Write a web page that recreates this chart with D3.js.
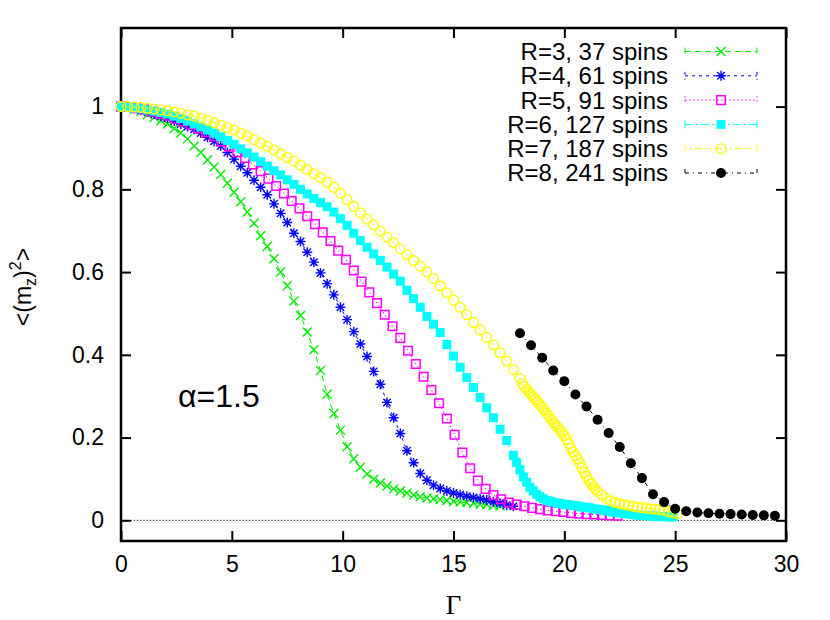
<!DOCTYPE html>
<html>
<head>
<meta charset="utf-8">
<script src="https://cdn.jsdelivr.net/npm/d3@7"></script>
<style>
  body { margin: 0; background: #fff; }
  svg { display: block; font-family: 'Liberation Sans', Arial, sans-serif; }
</style>
</head>
<body>
<div id="chart"></div>
<script>
// <(m_z)^2> against Gamma, alpha = 1.5

const seriesNames = ['R=3, 37 spins', 'R=4, 61 spins', 'R=5, 91 spins', 'R=6, 127 spins', 'R=7, 187 spins', 'R=8, 241 spins']
const xTicks = [0, 5, 10, 15, 20, 25, 30]
const yTicks = [0, 0.2, 0.4, 0.6, 0.8, 1]

const gammaR3 = [0, 0.3, 0.6, 0.9, 1.2, 1.5, 1.8, 2.1, 2.4, 2.7, 3, 3.3, 3.6, 3.9, 4.2, 4.5, 4.8, 5.1, 5.4, 5.7,
  6, 6.3, 6.6, 6.9, 7.2, 7.5, 7.8, 8.1, 8.4, 8.7, 9, 9.3, 9.6, 9.9, 10.2, 10.5, 10.8, 11.1, 11.4, 11.7,
  12, 12.3, 12.6, 12.9, 13.2, 13.5, 13.8, 14.1, 14.4, 14.7, 15, 15.3, 15.6, 15.9, 16.2, 16.5, 16.8, 17.1]
const mzR3 = [1.000, 0.998, 0.994, 0.988, 0.981, 0.974, 0.966, 0.958, 0.947, 0.936, 0.922, 0.905, 0.889, 0.871, 0.854, 0.836, 0.815, 0.793, 0.770, 0.745,
  0.718, 0.688, 0.662, 0.632, 0.600, 0.567, 0.530, 0.495, 0.455, 0.412, 0.362, 0.305, 0.258, 0.218, 0.178, 0.149, 0.128, 0.112, 0.099, 0.090,
  0.083, 0.076, 0.071, 0.066, 0.061, 0.057, 0.054, 0.052, 0.050, 0.048, 0.046, 0.044, 0.043, 0.041, 0.039, 0.038, 0.036, 0.035]

const gammaR4 = [0, 0.3, 0.6, 0.9, 1.2, 1.5, 1.8, 2.1, 2.4, 2.7, 3, 3.3, 3.6, 3.9, 4.2, 4.5, 4.8, 5.1, 5.4, 5.7,
  6, 6.3, 6.6, 6.9, 7.2, 7.5, 7.8, 8.1, 8.4, 8.7, 9, 9.3, 9.6, 9.9, 10.2, 10.5, 10.8, 11.1, 11.4, 11.7,
  12, 12.3, 12.6, 12.9, 13.2, 13.5, 13.8, 14.1, 14.4, 14.7, 15, 15.3, 15.6, 15.9, 16.2, 16.5, 16.8, 17.1, 17.4, 17.7]
const mzR4 = [1.000, 0.999, 0.996, 0.992, 0.987, 0.982, 0.977, 0.972, 0.965, 0.958, 0.952, 0.945, 0.936, 0.926, 0.916, 0.905, 0.889, 0.873, 0.856, 0.840,
  0.822, 0.805, 0.787, 0.765, 0.742, 0.720, 0.694, 0.674, 0.648, 0.624, 0.598, 0.572, 0.545, 0.515, 0.485, 0.456, 0.426, 0.396, 0.360, 0.329,
  0.285, 0.248, 0.210, 0.168, 0.139, 0.113, 0.097, 0.085, 0.077, 0.071, 0.066, 0.062, 0.058, 0.055, 0.052, 0.049, 0.045, 0.041, 0.037, 0.034]

const gammaR5 = [0, 0.35, 0.7, 1.05, 1.4, 1.75, 2.1, 2.45, 2.8, 3.15, 3.5, 3.85, 4.2, 4.55, 4.9, 5.25, 5.6, 5.95, 6.3, 6.65,
  7, 7.35, 7.7, 8.05, 8.4, 8.75, 9.1, 9.45, 9.8, 10.15, 10.5, 10.85, 11.2, 11.55, 11.9, 12.25, 12.6, 12.95, 13.3, 13.65,
  14, 14.35, 14.7, 15.05, 15.4, 15.75, 16.1, 16.45, 16.8, 17.15, 17.5, 17.85, 18.2, 18.55, 18.9, 19.25, 19.6, 19.95, 20.3, 20.65,
  21, 21.35, 21.7, 22.05, 22.4]
const mzR5 = [1.000, 0.999, 0.996, 0.993, 0.988, 0.983, 0.978, 0.971, 0.964, 0.956, 0.947, 0.938, 0.928, 0.916, 0.903, 0.890, 0.876, 0.860, 0.844, 0.826,
  0.808, 0.790, 0.772, 0.754, 0.735, 0.716, 0.696, 0.675, 0.652, 0.630, 0.604, 0.577, 0.551, 0.525, 0.497, 0.469, 0.441, 0.410, 0.378, 0.347,
  0.315, 0.283, 0.246, 0.207, 0.164, 0.126, 0.096, 0.076, 0.061, 0.051, 0.043, 0.038, 0.034, 0.030, 0.027, 0.024, 0.022, 0.020, 0.018, 0.016,
  0.015, 0.014, 0.013, 0.012, 0.011]

const gammaR6 = [0, 0.3, 0.6, 0.9, 1.2, 1.5, 1.8, 2.1, 2.4, 2.7, 3, 3.3, 3.6, 3.9, 4.2, 4.5, 4.8, 5.1, 5.4, 5.7,
  6, 6.3, 6.6, 6.9, 7.2, 7.5, 7.8, 8.1, 8.4, 8.7, 9, 9.3, 9.6, 9.9, 10.2, 10.5, 10.8, 11.1, 11.4, 11.7,
  12, 12.3, 12.6, 12.9, 13.2, 13.5, 13.8, 14.1, 14.4, 14.7, 15, 15.3, 15.6, 15.9, 16.2, 16.5, 16.8, 17.1, 17.4, 17.7,
  17.85, 18, 18.15, 18.3, 18.45, 18.6, 18.75, 18.9, 19.05, 19.2, 19.35, 19.5, 19.65, 19.8, 19.95, 20.1, 20.25, 20.4, 20.55, 20.7,
  20.85, 21, 21.15, 21.3, 21.45, 21.6, 21.75, 21.9, 22.05, 22.2, 22.35, 22.5, 22.65, 22.8, 22.95, 23.1, 23.25, 23.4, 23.55, 23.7,
  23.85, 24, 24.15, 24.3, 24.45, 24.6, 24.75, 24.9]
const mzR6 = [1.000, 0.999, 0.997, 0.995, 0.992, 0.989, 0.986, 0.982, 0.977, 0.971, 0.965, 0.958, 0.951, 0.944, 0.936, 0.927, 0.918, 0.909, 0.898, 0.888,
  0.878, 0.867, 0.856, 0.845, 0.835, 0.823, 0.812, 0.800, 0.789, 0.778, 0.768, 0.758, 0.745, 0.729, 0.713, 0.694, 0.676, 0.660, 0.644, 0.628,
  0.612, 0.595, 0.578, 0.556, 0.536, 0.515, 0.493, 0.474, 0.454, 0.425, 0.397, 0.370, 0.345, 0.321, 0.297, 0.272, 0.248, 0.220, 0.193, 0.157,
  0.140, 0.122, 0.105, 0.092, 0.080, 0.071, 0.063, 0.057, 0.052, 0.048, 0.046, 0.044, 0.042, 0.041, 0.039, 0.038, 0.037, 0.036, 0.035, 0.033,
  0.032, 0.031, 0.030, 0.028, 0.027, 0.026, 0.025, 0.023, 0.022, 0.020, 0.019, 0.018, 0.017, 0.016, 0.015, 0.014, 0.013, 0.012, 0.012, 0.011,
  0.011, 0.010, 0.010, 0.009, 0.009, 0.009, 0.008, 0.008]

const gammaR7 = [0, 0.3, 0.6, 0.9, 1.2, 1.5, 1.8, 2.1, 2.4, 2.7, 3, 3.3, 3.6, 3.9, 4.2, 4.5, 4.8, 5.1, 5.4, 5.7,
  6, 6.3, 6.6, 6.9, 7.2, 7.5, 7.8, 8.1, 8.4, 8.7, 9, 9.3, 9.6, 9.9, 10.2, 10.5, 10.8, 11.1, 11.4, 11.7,
  12, 12.3, 12.6, 12.9, 13.2, 13.5, 13.8, 14.1, 14.4, 14.7, 15, 15.3, 15.6, 15.9, 16.2, 16.5, 16.8, 17.1, 17.4, 17.7,
  18, 18.1, 18.2, 18.3, 18.4, 18.5, 18.6, 18.7, 18.8, 18.9, 19, 19.1, 19.2, 19.3, 19.4, 19.5, 19.6, 19.7, 19.8, 19.9,
  20, 20.1, 20.2, 20.3, 20.4, 20.5, 20.6, 20.7, 20.8, 20.9, 21, 21.1, 21.2, 21.3, 21.4, 21.5,
  21.7, 21.9, 22.1, 22.3, 22.5, 22.7, 22.9, 23.1, 23.3, 23.5, 23.7, 23.9, 24.1, 24.3, 24.5, 24.7, 24.9, 25.1]
const mzR7 = [1.000, 1.000, 0.999, 0.998, 0.996, 0.994, 0.992, 0.990, 0.987, 0.984, 0.980, 0.977, 0.972, 0.967, 0.961, 0.955, 0.949, 0.943, 0.936, 0.929,
  0.920, 0.912, 0.904, 0.895, 0.886, 0.877, 0.868, 0.858, 0.848, 0.838, 0.828, 0.817, 0.805, 0.790, 0.775, 0.759, 0.743, 0.728, 0.714, 0.699,
  0.685, 0.671, 0.656, 0.642, 0.628, 0.614, 0.600, 0.584, 0.567, 0.550, 0.532, 0.515, 0.497, 0.478, 0.460, 0.442, 0.424, 0.405, 0.385, 0.364,
  0.343, 0.331, 0.323, 0.317, 0.310, 0.304, 0.298, 0.292, 0.286, 0.279, 0.273, 0.266, 0.259, 0.252, 0.244, 0.237, 0.231, 0.225, 0.218, 0.212,
  0.205, 0.196, 0.185, 0.174, 0.165, 0.157, 0.148, 0.138, 0.127, 0.116, 0.106, 0.097, 0.089, 0.082, 0.076, 0.070,
  0.061, 0.053, 0.047, 0.043, 0.040, 0.038, 0.036, 0.034, 0.032, 0.031, 0.029, 0.028, 0.027, 0.026, 0.024, 0.021, 0.018, 0.016]

const gammaR8 = [18, 18.5, 19, 19.5, 20, 20.5, 21, 21.5, 22, 22.5, 23, 23.5, 24, 24.5, 25, 25.5, 26, 26.5, 27, 27.5, 28, 28.5, 29, 29.5]
const mzR8 = [0.452, 0.423, 0.393, 0.362, 0.336, 0.304, 0.275, 0.243, 0.211, 0.177, 0.138, 0.102, 0.063, 0.044, 0.028, 0.022, 0.019, 0.017, 0.016, 0.015, 0.014, 0.013, 0.012, 0.011]

const width = 830
const height = 620
const plot = { left: 121, right: 786, top: 28, bottom: 541 }

const markers = {
  times: r => `M${-r},${-r}L${r},${r}M${-r},${r}L${r},${-r}`,
  star: r => {
    const d = r * 0.75
    return `M${-r},0H${r}M0,${-r}V${r}M${-d},${-d}L${d},${d}M${-d},${d}L${d},${-d}`
  },
  square: r => `M${-r},${-r}H${r}V${r}H${-r}Z`,
  circle: r => `M${r},0A${r},${r} 0 1,1 ${-r},0A${r},${r} 0 1,1 ${r},0Z`
}

// gnuplot-like line types, one per system size
const styles = [
  { color: '#00ee00', dash: '6,4', marker: 'times', r: 4.5, fill: false, sw: 1.4 },
  { color: '#0000ff', dash: '3,4', marker: 'star', r: 5, fill: false, sw: 1.4 },
  { color: '#ff00ff', dash: '1.5,2.5', marker: 'square', r: 4.3, fill: false, sw: 1.5 },
  { color: '#00ffff', dash: '8,3,2,3', marker: 'square', r: 4.5, fill: true, sw: 0 },
  { color: '#ffff00', dash: '2,3,2,3,7,3', marker: 'circle', r: 4.8, fill: false, sw: 1.4 },
  { color: '#000000', dash: '4,4,1,4', marker: 'circle', r: 5, fill: true, sw: 0 }
]

const series = [
  d3.zip(gammaR3, mzR3),
  d3.zip(gammaR4, mzR4),
  d3.zip(gammaR5, mzR5),
  d3.zip(gammaR6, mzR6),
  d3.zip(gammaR7, mzR7),
  d3.zip(gammaR8, mzR8)
].map((points, i) => ({ name: seriesNames[i], points, style: styles[i] }))

const svg = d3.select('#chart')
  .append('svg')
  .attr('width', width)
  .attr('height', height)

const x = d3.scaleLinear().domain([0, 30]).range([plot.left, plot.right])
const y = d3.scaleLinear().domain([-0.05, 1.19]).range([plot.bottom, plot.top])

// axes, ticks pointing inward on all four sides
function styleAxis (g) {
  g.select('.domain').remove()
  g.attr('font-size', 23).attr('font-family', "'Liberation Sans', Arial, sans-serif")
  g.selectAll('.tick line').attr('stroke', '#000').attr('stroke-width', 2)
  g.selectAll('.tick text').attr('fill', '#000')
}

svg.append('g')
  .attr('transform', `translate(0, ${plot.bottom})`)
  .call(d3.axisBottom(x).tickValues(xTicks).tickSizeInner(-10).tickSizeOuter(0).tickPadding(15))
  .call(styleAxis)

svg.append('g')
  .attr('transform', `translate(0, ${plot.top})`)
  .call(d3.axisTop(x).tickValues(xTicks).tickSizeInner(-10).tickSizeOuter(0).tickFormat(''))
  .call(styleAxis)

svg.append('g')
  .attr('transform', `translate(${plot.left}, 0)`)
  .call(d3.axisLeft(y).tickValues(yTicks).tickSizeInner(-10).tickSizeOuter(0).tickPadding(17).tickFormat(d3.format('~g')))
  .call(styleAxis)

svg.append('g')
  .attr('transform', `translate(${plot.right}, 0)`)
  .call(d3.axisRight(y).tickValues(yTicks).tickSizeInner(-10).tickSizeOuter(0).tickFormat(''))
  .call(styleAxis)

svg.append('rect')
  .attr('x', plot.left)
  .attr('y', plot.top)
  .attr('width', plot.right - plot.left)
  .attr('height', plot.bottom - plot.top)
  .attr('fill', 'none')
  .attr('stroke', '#000')
  .attr('stroke-width', 2.5)

// zero line
svg.append('line')
  .attr('x1', x(0))
  .attr('x2', x(30))
  .attr('y1', y(0))
  .attr('y2', y(0))
  .attr('stroke', '#000')
  .attr('stroke-width', 1)
  .attr('stroke-dasharray', '1.2,2')

// axis titles
svg.append('text')
  .attr('x', x(15))
  .attr('y', 614)
  .attr('text-anchor', 'middle')
  .attr('font-family', "'Liberation Serif', 'Times New Roman', serif")
  .attr('font-size', 27)
  .text('Γ')

const yTitle = svg.append('text')
  .attr('transform', 'translate(31, 287) rotate(-90)')
  .attr('text-anchor', 'middle')
  .attr('font-size', 23)
yTitle.append('tspan').text('<(m')
yTitle.append('tspan').attr('font-size', 16).attr('dy', 5).text('z')
yTitle.append('tspan').attr('dy', -5).text(')')
yTitle.append('tspan').attr('font-size', 16).attr('dy', -10).text('2')
yTitle.append('tspan').attr('dy', 10).text('>')

svg.append('text')
  .attr('x', 178)
  .attr('y', 407)
  .attr('font-size', 32)
  .text('α=1.5')

// data
const line = d3.line()
  .x(d => x(d[0]))
  .y(d => y(d[1]))

function drawMarks (g, s, pts) {
  g.selectAll('path.mark')
    .data(pts)
    .join('path')
    .attr('class', 'mark')
    .attr('transform', d => `translate(${d[0]}, ${d[1]})`)
    .attr('d', markers[s.marker](s.r))
    .attr('fill', s.fill ? s.color : 'none')
    .attr('stroke', s.fill ? 'none' : s.color)
    .attr('stroke-width', s.sw)
}

series.forEach(s => {
  const g = svg.append('g')
  g.append('path')
    .attr('d', line(s.points))
    .attr('fill', 'none')
    .attr('stroke', s.style.color)
    .attr('stroke-width', 1)
    .attr('stroke-dasharray', s.style.dash)
  drawMarks(g, s.style, s.points.map(d => [x(d[0]), y(d[1])]))
})

// legend
const legend = svg.append('g')
series.forEach((s, i) => {
  const cy = 51.5 + i * 24.3
  const row = legend.append('g')
  row.append('text')
    .attr('x', 668)
    .attr('y', cy)
    .attr('dy', '0.35em')
    .attr('text-anchor', 'end')
    .attr('font-size', 24)
    .text(s.name)
  row.append('path')
    .attr('d', `M685,${cy}H757M685,${cy - 4}V${cy + 4}M757,${cy - 4}V${cy + 4}`)
    .attr('fill', 'none')
    .attr('stroke', s.style.color)
    .attr('stroke-width', 1)
    .attr('stroke-dasharray', s.style.dash)
  drawMarks(row, s.style, [[721, cy]])
})
</script>
</body>
</html>
